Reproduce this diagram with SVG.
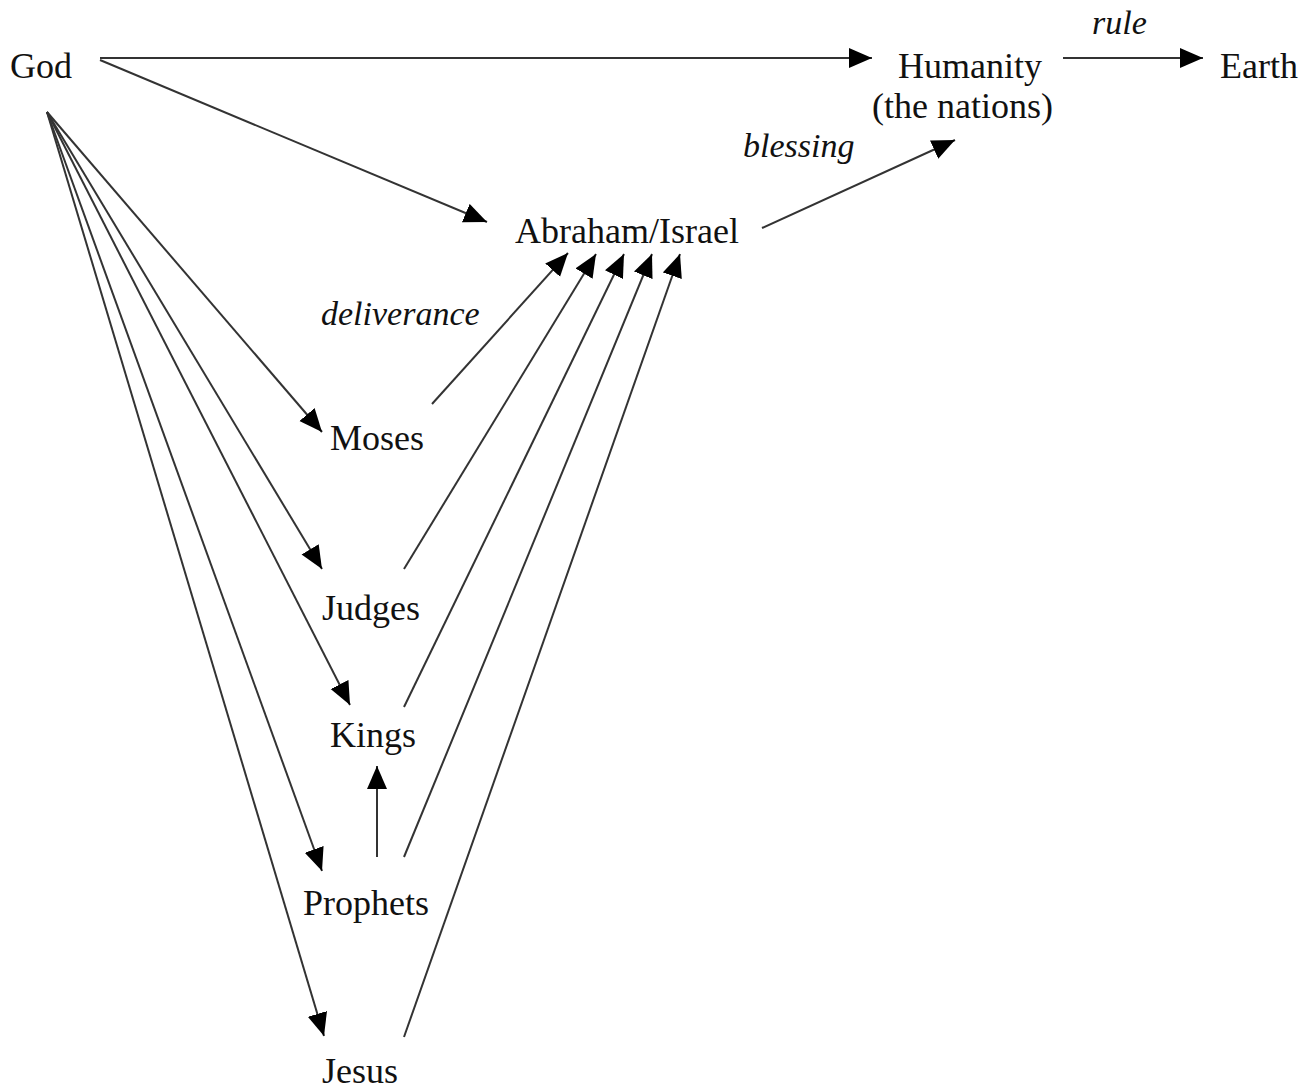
<svg xmlns="http://www.w3.org/2000/svg" width="1310" height="1092" viewBox="0 0 1310 1092">
<style>
.t{font-family:"Liberation Serif","Times New Roman",serif;font-size:36px;fill:#111}
.i{font-family:"Liberation Serif","Times New Roman",serif;font-size:34px;font-style:italic;fill:#111}
.c line{stroke:#333;stroke-width:2;fill:none}
.a{marker-end:url(#ah)}
</style>
<defs>
<marker id="ah" markerUnits="userSpaceOnUse" markerWidth="24" markerHeight="22" refX="23" refY="10" orient="auto">
<path d="M0,0 L23,10 L0,20 z" fill="#000"/>
</marker>
</defs>
<rect width="1310" height="1092" fill="#fff"/>
<g id="connectors" class="c">
<line class="a" x1="100" y1="58" x2="872" y2="58"/>
<line class="a" x1="100" y1="60" x2="487" y2="222"/>
<line class="a" x1="1063" y1="58" x2="1203" y2="58"/>
<line class="a" x1="762" y1="228" x2="955" y2="140"/>
<line class="a" x1="47" y1="112" x2="322" y2="432"/>
<line class="a" x1="47" y1="112" x2="322" y2="569"/>
<line class="a" x1="47" y1="112" x2="350" y2="705"/>
<line class="a" x1="47" y1="112" x2="322" y2="871"/>
<line class="a" x1="47" y1="112" x2="324" y2="1036"/>
<line class="a" x1="432" y1="404" x2="568" y2="253"/>
<line class="a" x1="404" y1="569" x2="596" y2="254"/>
<line class="a" x1="404" y1="707" x2="624" y2="254"/>
<line class="a" x1="404" y1="857" x2="652" y2="254"/>
<line class="a" x1="404" y1="1037" x2="680" y2="254"/>
<line class="a" x1="377" y1="857" x2="377" y2="766"/>
</g>
<g id="god"><text class="t" x="10" y="78">God</text></g>
<g id="humanity"><text class="t" x="898" y="78">Humanity</text><text class="t" x="872" y="118">(the nations)</text></g>
<g id="earth"><text class="t" x="1220" y="78">Earth</text></g>
<g id="label-rule"><text class="i" x="1092" y="34">rule</text></g>
<g id="label-blessing"><text class="i" x="743" y="157">blessing</text></g>
<g id="abraham"><text class="t" x="515" y="243">Abraham/Israel</text></g>
<g id="label-deliverance"><text class="i" x="321" y="325">deliverance</text></g>
<g id="moses"><text class="t" x="330" y="450">Moses</text></g>
<g id="judges"><text class="t" x="322" y="620">Judges</text></g>
<g id="kings"><text class="t" x="330" y="747">Kings</text></g>
<g id="prophets"><text class="t" x="303" y="915">Prophets</text></g>
<g id="jesus"><text class="t" x="322" y="1083">Jesus</text></g>
</svg>
